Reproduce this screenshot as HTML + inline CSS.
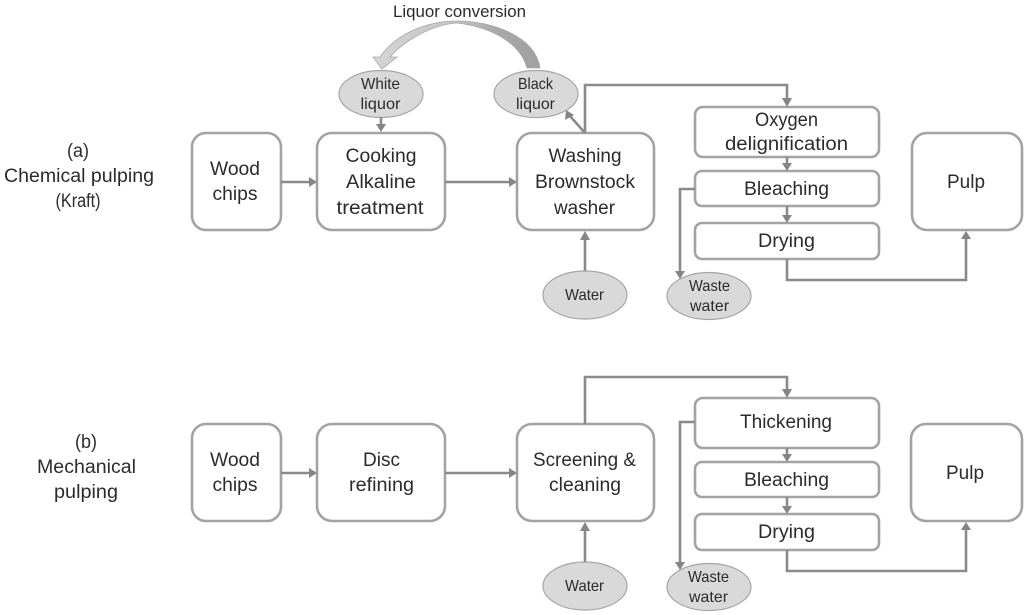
<!DOCTYPE html>
<html><head><meta charset="utf-8"><style>
html,body{margin:0;padding:0;background:#fff;width:1024px;height:615px;overflow:hidden}
svg{display:block;filter:blur(.35px)}
text{font-family:"Liberation Sans",sans-serif;font-size:19px;fill:#2b2b2b;text-anchor:middle}
text.s{font-size:16px}
rect{fill:#fff;stroke:#a3a3a3;stroke-width:2.6}
ellipse{fill:#d9d9d9;stroke:#a6a6a6;stroke-width:1.2}
.c{fill:none;stroke:#8a8a8a;stroke-width:2.6}
.h{fill:#858585}
</style></head><body>
<svg width="1024" height="615" viewBox="0 0 1024 615" xmlns="http://www.w3.org/2000/svg">
<defs><linearGradient id="g" x1="0" y1="0" x2="1" y2="0"><stop offset="0" stop-color="#d6d6d6"/><stop offset=".5" stop-color="#c4c4c4"/><stop offset=".75" stop-color="#a8a8a8"/><stop offset="1" stop-color="#a0a0a0"/></linearGradient></defs>

<!-- curved arrow -->
<path d="M540,68 C535,35 490,21 457,21 C425,21 395,35 380,57 L373,57 L382,69 L397,57 L390,57 C403,42 430,25 457,23 C490,27 520,42 527,68 Z" fill="url(#g)" stroke="#a8a8a8" stroke-width=".8"/>

<!-- boxes top -->
<rect x="192" y="133" width="89" height="97" rx="14"/>
<rect x="317" y="133" width="128" height="97" rx="15"/>
<rect x="517" y="133" width="137" height="97" rx="15"/>
<rect x="695" y="107" width="184" height="50" rx="8"/>
<rect x="695" y="171" width="184" height="35" rx="7"/>
<rect x="695" y="223" width="184" height="36" rx="7"/>
<rect x="912" y="133" width="110" height="97" rx="15"/>

<!-- boxes bottom -->
<rect x="192" y="424" width="89" height="97" rx="14"/>
<rect x="317" y="424" width="128" height="97" rx="15"/>
<rect x="517" y="424" width="137" height="97" rx="15"/>
<rect x="695" y="398" width="184" height="50" rx="8"/>
<rect x="695" y="462" width="184" height="35" rx="7"/>
<rect x="695" y="514" width="184" height="36" rx="7"/>
<rect x="911" y="424" width="111" height="97" rx="15"/>

<!-- ellipses -->
<ellipse cx="381" cy="94" rx="42" ry="23.5"/>
<ellipse cx="536" cy="94" rx="42" ry="23.5"/>
<ellipse cx="585" cy="295" rx="42" ry="24"/>
<ellipse cx="709" cy="296" rx="42" ry="23.5"/>
<ellipse cx="585" cy="586" rx="42" ry="24"/>
<ellipse cx="709" cy="587" rx="42" ry="23.5"/>

<!-- connectors top -->
<path class="c" d="M381,117V127M281,182H311M445,182H510M585,133L570,116M585,133V85H787V100M787,157V165M787,206V217M787,259V280H966V238M585,271V238M695,189H680V272"/>
<polygon class="h" points="376,124 386,124 381,132"/>
<polygon class="h" points="309,177 317,182 309,187"/>
<polygon class="h" points="509,177 517,182 509,187"/>
<polygon class="h" points="566,110 565,120 574,115"/>
<polygon class="h" points="782,98 792,98 787,107"/>
<polygon class="h" points="782,163 792,163 787,171"/>
<polygon class="h" points="782,215 792,215 787,223"/>
<polygon class="h" points="961,239 971,239 966,231"/>
<polygon class="h" points="580,240 590,240 585,231"/>
<polygon class="h" points="675,271 685,271 680,279"/>

<!-- connectors bottom -->
<path class="c" d="M281,473H311M445,473H510M585,424V377H787V391M787,448V456M787,497V508M787,550V571H966V529M585,562V529M695,422H680V563"/>
<polygon class="h" points="309,468 317,473 309,478"/>
<polygon class="h" points="509,468 517,473 509,478"/>
<polygon class="h" points="782,389 792,389 787,398"/>
<polygon class="h" points="782,454 792,454 787,462"/>
<polygon class="h" points="782,506 792,506 787,514"/>
<polygon class="h" points="961,530 971,530 966,522"/>
<polygon class="h" points="580,531 590,531 585,522"/>
<polygon class="h" points="675,562 685,562 680,570"/>

<!-- labels top -->
<text x="459.5" y="17" class="s" style="font-size:17px" textLength="133" lengthAdjust="spacingAndGlyphs">Liquor conversion</text>
<text x="78" y="157" textLength="22" lengthAdjust="spacingAndGlyphs">(a)</text>
<text x="79" y="182" textLength="150" lengthAdjust="spacingAndGlyphs">Chemical pulping</text>
<text x="78" y="207" textLength="45" lengthAdjust="spacingAndGlyphs">(Kraft)</text>
<text x="235" y="175" textLength="50" lengthAdjust="spacingAndGlyphs">Wood</text>
<text x="235" y="200" textLength="45" lengthAdjust="spacingAndGlyphs">chips</text>
<text x="381" y="162" textLength="71" lengthAdjust="spacingAndGlyphs">Cooking</text>
<text x="381" y="188" textLength="70" lengthAdjust="spacingAndGlyphs">Alkaline</text>
<text x="380" y="214" textLength="87" lengthAdjust="spacingAndGlyphs">treatment</text>
<text x="585" y="162" textLength="73" lengthAdjust="spacingAndGlyphs">Washing</text>
<text x="585" y="188" textLength="100" lengthAdjust="spacingAndGlyphs">Brownstock</text>
<text x="584.5" y="214" textLength="61" lengthAdjust="spacingAndGlyphs">washer</text>
<text x="786.5" y="126" textLength="63" lengthAdjust="spacingAndGlyphs">Oxygen</text>
<text x="786.5" y="150" textLength="123" lengthAdjust="spacingAndGlyphs">delignification</text>
<text x="786.5" y="195" textLength="85" lengthAdjust="spacingAndGlyphs">Bleaching</text>
<text x="786.5" y="247" textLength="57" lengthAdjust="spacingAndGlyphs">Drying</text>
<text x="966" y="188" textLength="38" lengthAdjust="spacingAndGlyphs">Pulp</text>
<text x="380.5" y="89" class="s" textLength="39" lengthAdjust="spacingAndGlyphs">White</text>
<text x="380.5" y="109" class="s" textLength="40" lengthAdjust="spacingAndGlyphs">liquor</text>
<text x="535.5" y="89" class="s" textLength="35" lengthAdjust="spacingAndGlyphs">Black</text>
<text x="535.5" y="109" class="s" textLength="39" lengthAdjust="spacingAndGlyphs">liquor</text>
<text x="584.5" y="300" class="s" textLength="39" lengthAdjust="spacingAndGlyphs">Water</text>
<text x="709.5" y="291" class="s" textLength="41" lengthAdjust="spacingAndGlyphs">Waste</text>
<text x="709.5" y="311" class="s" textLength="39" lengthAdjust="spacingAndGlyphs">water</text>

<!-- labels bottom -->
<text x="86" y="448" textLength="22" lengthAdjust="spacingAndGlyphs">(b)</text>
<text x="86.5" y="473" textLength="99" lengthAdjust="spacingAndGlyphs">Mechanical</text>
<text x="86" y="498" textLength="64" lengthAdjust="spacingAndGlyphs">pulping</text>
<text x="235" y="466" textLength="50" lengthAdjust="spacingAndGlyphs">Wood</text>
<text x="235" y="491" textLength="45" lengthAdjust="spacingAndGlyphs">chips</text>
<text x="381.5" y="466" textLength="37" lengthAdjust="spacingAndGlyphs">Disc</text>
<text x="381.5" y="491" textLength="65" lengthAdjust="spacingAndGlyphs">refining</text>
<text x="584.5" y="466" textLength="103" lengthAdjust="spacingAndGlyphs">Screening &amp;</text>
<text x="585" y="491" textLength="72" lengthAdjust="spacingAndGlyphs">cleaning</text>
<text x="786" y="428" textLength="92" lengthAdjust="spacingAndGlyphs">Thickening</text>
<text x="786.5" y="486" textLength="85" lengthAdjust="spacingAndGlyphs">Bleaching</text>
<text x="786.5" y="538" textLength="57" lengthAdjust="spacingAndGlyphs">Drying</text>
<text x="965" y="479" textLength="38" lengthAdjust="spacingAndGlyphs">Pulp</text>
<text x="584.5" y="591" class="s" textLength="39" lengthAdjust="spacingAndGlyphs">Water</text>
<text x="708.5" y="582" class="s" textLength="41" lengthAdjust="spacingAndGlyphs">Waste</text>
<text x="708.5" y="602" class="s" textLength="39" lengthAdjust="spacingAndGlyphs">water</text>
</svg>
</body></html>
